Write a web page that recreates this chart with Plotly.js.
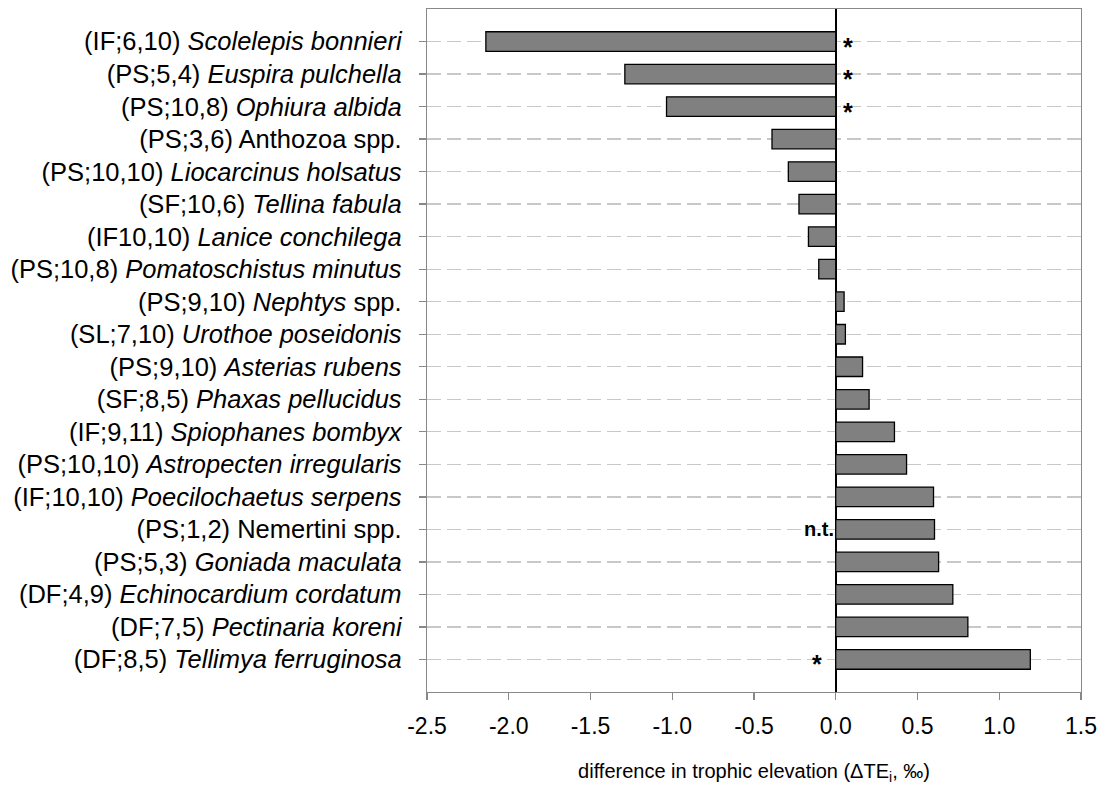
<!DOCTYPE html>
<html>
<head>
<meta charset="utf-8">
<script src="https://cdn.plot.ly/plotly-3.0.1.min.js"></script>
<style>
  html, body { margin: 0; padding: 0; background: #fff; }
  #chart { width: 1107px; height: 792px; }
</style>
</head>
<body>
<div id="chart"></div>
<script>
// Species labels: (feeding guild; n, n) followed by the taxon name
const categories = [
  "(IF;6,10) <i>Scolelepis bonnieri</i>",
  "(PS;5,4) <i>Euspira pulchella</i>",
  "(PS;10,8) <i>Ophiura albida</i>",
  "(PS;3,6) Anthozoa spp.",
  "(PS;10,10) <i>Liocarcinus holsatus</i>",
  "(SF;10,6) <i>Tellina fabula</i>",
  "(IF10,10) <i>Lanice conchilega</i>",
  "(PS;10,8) <i>Pomatoschistus minutus</i>",
  "(PS;9,10) <i>Nephtys</i> spp.",
  "(SL;7,10) <i>Urothoe poseidonis</i>",
  "(PS;9,10) <i>Asterias rubens</i>",
  "(SF;8,5) <i>Phaxas pellucidus</i>",
  "(IF;9,11) <i>Spiophanes bombyx</i>",
  "(PS;10,10) <i>Astropecten irregularis</i>",
  "(IF;10,10) <i>Poecilochaetus serpens</i>",
  "(PS;1,2) Nemertini spp.",
  "(PS;5,3) <i>Goniada maculata</i>",
  "(DF;4,9) <i>Echinocardium cordatum</i>",
  "(DF;7,5) <i>Pectinaria koreni</i>",
  "(DF;8,5) <i>Tellimya ferruginosa</i>"
];

// Difference in trophic elevation (ΔTE_i, ‰)
const deltaTE = [
  -2.14, -1.29, -1.035, -0.39, -0.29, -0.225, -0.167, -0.104,
  0.051, 0.059, 0.164, 0.204, 0.359, 0.433, 0.598, 0.604,
  0.629, 0.716, 0.808, 1.19
];

// Significance marks: "*" = significant, "n.t." = not tested
const markLabels = ["*", "*", "*", "n.t.", "*"];
const markRows = [0, 1, 2, 15, 19];

const xTicks = [-2.5, -2.0, -1.5, -1.0, -0.5, 0.0, 0.5, 1.0, 1.5];

const FONT = "Liberation Sans, Arial, sans-serif";

const trace = {
  type: "bar",
  orientation: "h",
  x: deltaTE,
  y: categories,
  width: 0.6,
  marker: { color: "#808080", line: { color: "#000000", width: 1.3 } },
  hoverinfo: "x+y"
};

// Place each mark just beside its bar, on the zero side
const annotations = markRows.map((row, i) => {
  const txt = markLabels[i];
  const v = deltaTE[row];
  let ax, anchor, yshift;
  if (txt === "n.t.") {
    ax = 0; anchor = "right"; yshift = 0;
  } else if (v < 0) {
    ax = 0.03; anchor = "left"; yshift = -5;
  } else {
    ax = -0.07; anchor = "right"; yshift = -5;
  }
  return {
    x: ax, y: categories[row], xref: "x", yref: "y",
    text: "<b>" + txt + "</b>",
    showarrow: false, xanchor: anchor, yanchor: "middle",
    yshift: yshift,
    font: { family: FONT, size: txt === "n.t." ? 20 : 25, color: "#000" }
  };
});

const layout = {
  width: 1107, height: 792,
  margin: { l: 427, r: 26, t: 9, b: 100 },
  paper_bgcolor: "#ffffff",
  plot_bgcolor: "#ffffff",
  showlegend: false,
  font: { family: FONT, size: 20, color: "#000" },
  xaxis: {
    range: [-2.5, 1.5],
    tickvals: xTicks,
    ticktext: xTicks.map(v => v.toFixed(1)),
    ticks: "outside", ticklen: 7, tickcolor: "#888888", tickwidth: 1.3,
    showline: true, linecolor: "#888888", linewidth: 1.3, mirror: true,
    showgrid: false,
    zeroline: true, zerolinecolor: "#000000", zerolinewidth: 1.5,
    ticklabelstandoff: 6,
    tickfont: { family: FONT, size: 23 },
    title: {
      text: "difference in trophic elevation (ΔTE<sub>i</sub>, ‰)",
      font: { family: FONT, size: 20 },
      standoff: 26
    }
  },
  yaxis: {
    type: "category",
    range: [20, -1],
    ticks: "outside", ticklen: 7, tickcolor: "#888888", tickwidth: 1.3,
    showline: true, linecolor: "#888888", linewidth: 1.3, mirror: true,
    showgrid: true, gridcolor: "#c8c8c8", gridwidth: 1.3, griddash: "14px,6px",
    zeroline: false,
    ticklabelstandoff: 12,
    tickfont: { family: FONT, size: 25.5 }
  },
  annotations: annotations
};

Plotly.newPlot("chart", [trace], layout, { displayModeBar: false, staticPlot: true });
</script>
</body>
</html>
